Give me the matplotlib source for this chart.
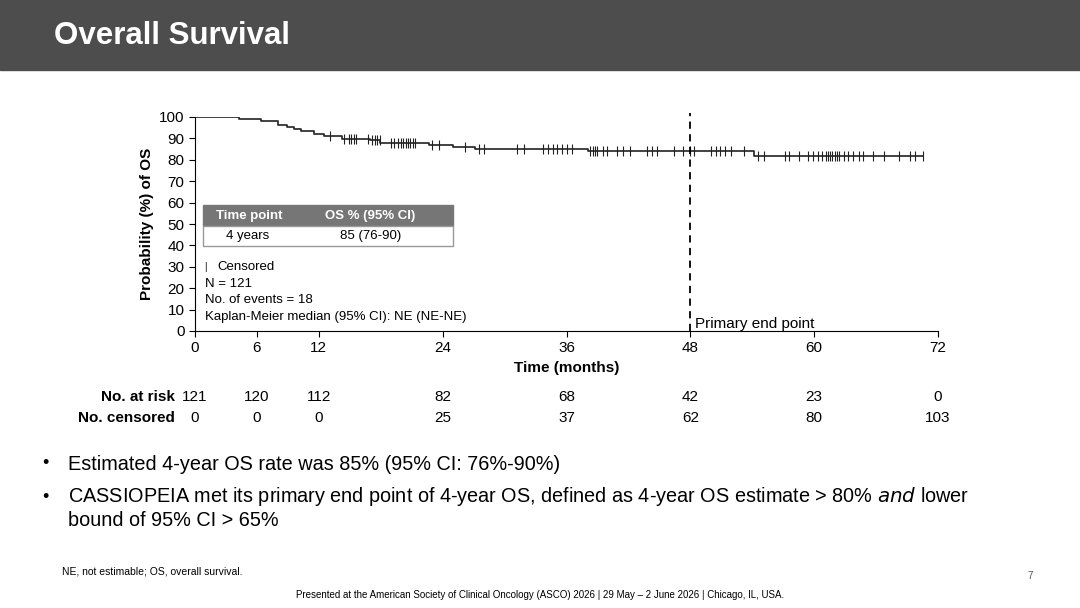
import matplotlib.pyplot as plt
import matplotlib.transforms as mtransforms
from matplotlib.patches import Rectangle

event_times = [4.3, 6.4, 8.0, 8.9, 9.6, 10.3, 11.5, 12.5, 14.2, 17.0, 17.9, 22.7, 25.0, 27.1, 38.1, 54.2]
surv_levels = [98.9, 98.0, 96.4, 95.3, 94.2, 93.5, 92.2, 91.1, 89.9, 89.1, 88.0, 87.1, 86.0, 84.9, 84.0, 81.8]
end_time = 70.5
censor_times = [13.07, 14.44, 14.9, 15.13, 15.36, 15.59, 16.74, 17.2, 17.43, 17.66, 17.89, 19.04, 19.27,
                19.72, 19.95, 20.18, 20.41, 20.64, 20.87, 21.1, 21.33, 22.94, 23.63, 26.15, 27.53, 27.99,
                31.2, 31.9, 33.7, 34.2, 34.65, 35.1, 35.6, 36.0, 36.5, 38.3, 38.6, 38.8, 39.0, 39.5, 39.9,
                40.9, 41.5, 42.2, 43.8, 44.3, 44.8, 46.4, 47.3, 48.0, 48.4, 50.0, 50.5, 50.9, 51.4, 51.9,
                53.2, 54.6, 55.1, 57.2, 57.6, 58.5, 59.4, 59.9, 60.4, 60.8, 61.1, 61.3, 61.5, 61.7, 62.0,
                62.2, 62.4, 62.9, 63.3, 63.8, 64.3, 64.7, 65.7, 66.8, 68.2, 69.3, 69.8, 70.5]
risk_times = [0, 6, 12, 24, 36, 48, 60, 72]
at_risk = [121, 120, 112, 82, 68, 42, 23, 0]
censored = [0, 0, 0, 25, 37, 62, 80, 103]

plt.rcParams['font.family'] = ['Liberation Sans', 'DejaVu Sans']
fig = plt.figure(figsize=(10.8, 6.08), dpi=100)
W, H = 1080, 608

# header band
fig.patches.append(Rectangle((0, 1 - 70 / H), 1, 70 / H, transform=fig.transFigure, color='#4d4d4d'))
fig.text(54 / W, 1 - 36 / H, 'Overall Survival', color='white', fontsize=22.5, fontweight='bold', va='center')

ax = fig.add_axes([195 / W, 1 - 331 / H, 743 / W, 214 / H])
xs = [0] + event_times + [end_time]
ys = [100] + surv_levels + [surv_levels[-1]]
ax.step(xs, ys, where='post', color='#222222', lw=1.2)


def surv_at(t):
    s = 100
    for et, lv in zip(event_times, surv_levels):
        if t >= et:
            s = lv
    return s


ax.plot(censor_times, [surv_at(t) for t in censor_times], ls='none', marker='|', ms=7,
        mew=0.8, color='#222222')
ax.axvline(48, ymin=0, ymax=1.02, color='black', ls=(0, (4, 3)), lw=1.3, clip_on=False)
ax.text(48.5, 1.5, 'Primary end point', fontsize=11)
ax.set_xlim(0, 72)
ax.set_ylim(0, 100)
ax.set_xticks(risk_times)
ax.set_yticks(range(0, 101, 10))
ax.tick_params(labelsize=11, length=4)
ax.spines[['top', 'right']].set_visible(False)
ax.set_xlabel('Time (months)', fontsize=11, fontweight='bold')
ax.set_ylabel('Probability (%) of OS', fontsize=11, fontweight='bold')

# inset table
ax.add_patch(Rectangle((0.8, 49), 24.2, 10, transform=ax.transData, facecolor='#767676',
                       edgecolor='#767676', clip_on=False))
ax.add_patch(Rectangle((0.8, 39.5), 24.2, 9.5, transform=ax.transData, facecolor='white',
                       edgecolor='#999999', clip_on=False))
ax.text(2.0, 53.8, 'Time point', color='white', fontsize=9.5, fontweight='bold', va='center')
ax.text(17, 53.8, 'OS % (95% CI)', color='white', fontsize=9.5, fontweight='bold', va='center', ha='center')
ax.text(3, 44.2, '4 years', fontsize=9.5, va='center')
ax.text(17, 44.2, '85 (76-90)', fontsize=9.5, va='center', ha='center')
ax.text(1.0, 30, '| ', fontsize=7, va='center')
ax.text(2.2, 30, 'Censored', fontsize=9.5, va='center')
ax.text(1.0, 22, 'N = 121', fontsize=9.5, va='center')
ax.text(1.0, 14.5, 'No. of events = 18', fontsize=9.5, va='center')
ax.text(1.0, 6.5, 'Kaplan-Meier median (95% CI): NE (NE-NE)', fontsize=9.5, va='center')

# risk table
tr = mtransforms.blended_transform_factory(ax.transData, fig.transFigure)
fig.text(175 / W, 1 - 397 / H, 'No. at risk', fontsize=11, fontweight='bold', ha='right', va='center')
fig.text(175 / W, 1 - 418 / H, 'No. censored', fontsize=11, fontweight='bold', ha='right', va='center')
for t, r, c in zip(risk_times, at_risk, censored):
    ax.text(t, 1 - 397 / H, str(r), transform=tr, fontsize=11, ha='center', va='center')
    ax.text(t, 1 - 418 / H, str(c), transform=tr, fontsize=11, ha='center', va='center')

# bullets
fig.text(42 / W, 1 - 464 / H, '•', fontsize=13, va='center')
fig.text(68 / W, 1 - 464 / H, 'Estimated 4-year OS rate was 85% (95% CI: 76%-90%)', fontsize=14.3, va='center')
fig.text(42 / W, 1 - 497 / H, '•', fontsize=13, va='center')
fig.text(68 / W, 1 - 497 / H, 'CASSIOPEIA met its primary end point of 4-year OS, defined as 4-year OS estimate > 80% '
         r'$\bf{\it{and}}$ lower', fontsize=14.3, va='center')
fig.text(68 / W, 1 - 521 / H, 'bound of 95% CI > 65%', fontsize=14.3, va='center')

fig.text(62 / W, 1 - 571 / H, 'NE, not estimable; OS, overall survival.', fontsize=7.5, va='center')
fig.text(1027 / W, 1 - 576 / H, '7', fontsize=7, va='center', color='#555555')
fig.text(540 / W, 1 - 595 / H, 'Presented at the American Society of Clinical Oncology (ASCO) 2026 | 29 May – 2 June 2026 | Chicago, IL, USA.',
         fontsize=7, ha='center', va='center')

fig.savefig('out.png', dpi=100)
